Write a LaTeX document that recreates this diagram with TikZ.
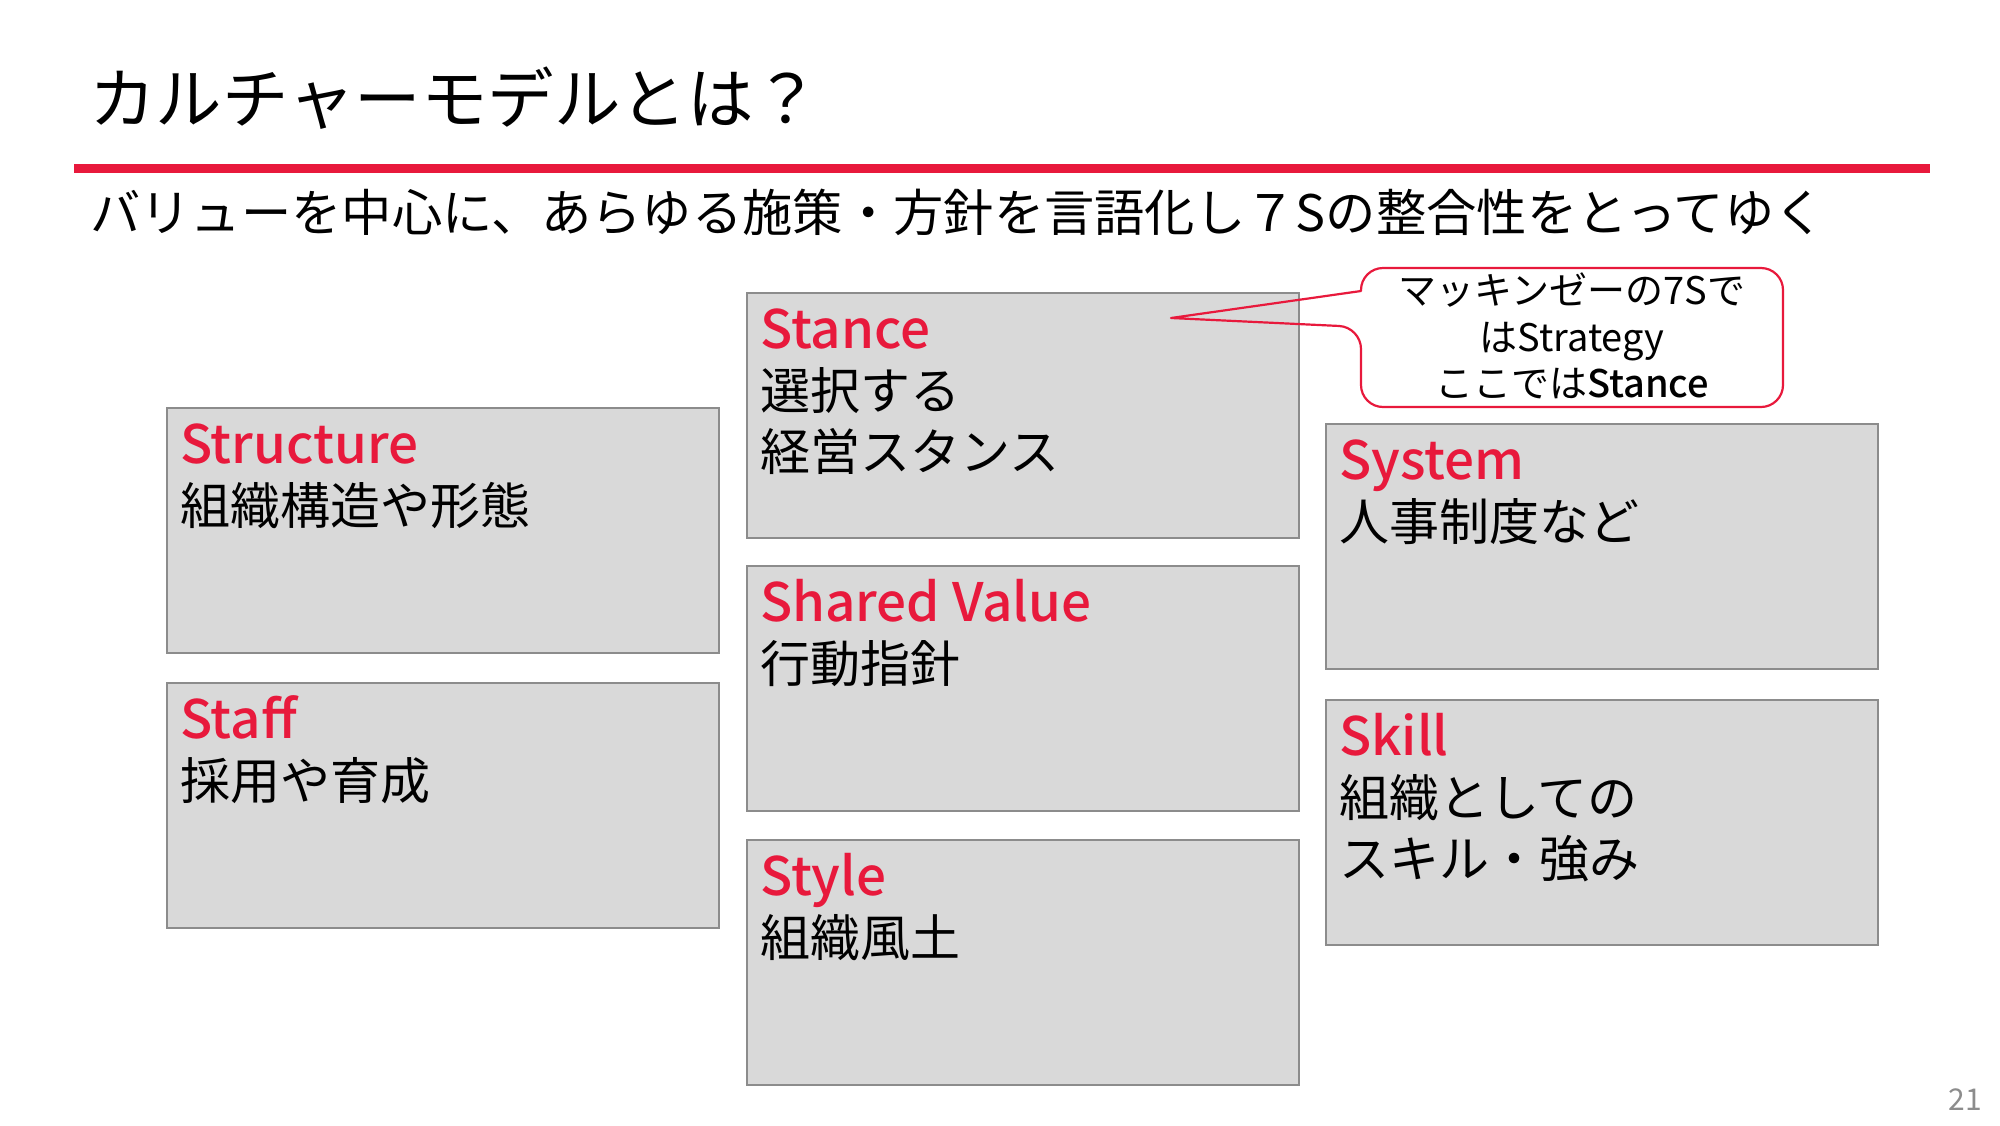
\documentclass[tikz,border=0pt]{standalone}
\usepackage{fontspec}
\setmainfont{Noto Sans CJK JP}
\newfontfamily\medfont{Noto Sans CJK JP Medium}
\usetikzlibrary{calc}
\definecolor{accent}{HTML}{E8193C}
\definecolor{cardfill}{HTML}{D9D9D9}
\definecolor{cardline}{HTML}{8C8C8C}
\definecolor{pagegray}{HTML}{8C8C8C}
\begin{document}
\begin{tikzpicture}[x=1pt,y=-1pt,
  card/.style={draw=cardline, fill=cardfill, line width=2.2pt, anchor=north west,
    minimum width=552pt, minimum height=245pt, inner sep=0pt},
  head/.style={anchor=base west, inner sep=0pt, text=accent,
    font=\fontsize{53}{60}\selectfont\medfont},
  body/.style={anchor=base west, inner sep=0pt, text=black,
    font=\fontsize{50}{60}\selectfont},
  ctext/.style={anchor=base, inner sep=0pt, text=black,
    font=\fontsize{38}{46}\selectfont}]
\useasboundingbox[fill=white] (0,0) rectangle (2000,1125);

% title and rule
\node[anchor=base west, inner sep=0pt, font=\fontsize{66.5}{70}\selectfont] (title) at (89,123) {カルチャーモデルとは？};
\coordinate (ruleL) at (74,168);
\coordinate (ruleR) at (1930,168);
\draw[accent, line width=9pt] (ruleL) -- (ruleR);
\node[anchor=base west, inner sep=0pt, font=\fontsize{50.3}{60}\selectfont] (sub) at (90,231) {バリューを中心に、あらゆる施策・方針を言語化し７Sの整合性をとってゆく};

% cards
\node[card] (structure) at (166,407) {};
\node[card] (staff) at (166,682) {};
\node[card] (stance) at (746,292) {};
\node[card] (shared) at (746,565) {};
\node[card] (style) at (746,839) {};
\node[card] (system) at (1325,423) {};
\node[card] (skill) at (1325,699) {};

\node[head] (structureH) at ($(structure.north west)+(14,56)$) {Structure};
\node[body] (structureA) at ($(structure.north west)+(14,117)$) {組織構造や形態};

\node[head] (staffH) at ($(staff.north west)+(14,56)$) {Staff};
\node[body] (staffA) at ($(staff.north west)+(14,117)$) {採用や育成};

\node[head] (stanceH) at ($(stance.north west)+(14,56)$) {Stance};
\node[body] (stanceA) at ($(stance.north west)+(14,117)$) {選択する};
\node[body] (stanceB) at ($(stance.north west)+(14,178)$) {経営スタンス};

\node[head] (sharedH) at ($(shared.north west)+(14,56)$) {Shared Value};
\node[body] (sharedA) at ($(shared.north west)+(14,117)$) {行動指針};

\node[head] (styleH) at ($(style.north west)+(14,56)$) {Style};
\node[body] (styleA) at ($(style.north west)+(14,117)$) {組織風土};

\node[head] (systemH) at ($(system.north west)+(14,56)$) {System};
\node[body] (systemA) at ($(system.north west)+(14,117)$) {人事制度など};

\node[head] (skillH) at ($(skill.north west)+(14,56)$) {Skill};
\node[body] (skillA) at ($(skill.north west)+(14,117)$) {組織としての};
\node[body] (skillB) at ($(skill.north west)+(14,178)$) {スキル・強み};

% callout
\coordinate (tip) at (1171,318);
\fill[white, rounded corners=22pt] (1361,268) rectangle (1783,407);
\draw[accent, line width=2.2pt, line join=round]
  (1361,291) [rounded corners=22pt] -- (1361,268) -- (1783,268) -- (1783,407) -- (1361,407) -- (1361,327)
  [sharp corners] -- (tip) -- cycle;
\node[ctext] (c1) at (1572,304) {マッキンゼーの7Sで};
\node[ctext] (c2) at (1572,351) {はStrategy};
\node[ctext] (c3) at (1572,397) {ここでは{\medfont Stance}};

% page number
\node[anchor=base east, inner sep=0pt, text=pagegray, font=\fontsize{30}{30}\selectfont] (pg) at (1982,1110) {21};
\end{tikzpicture}
\end{document}
